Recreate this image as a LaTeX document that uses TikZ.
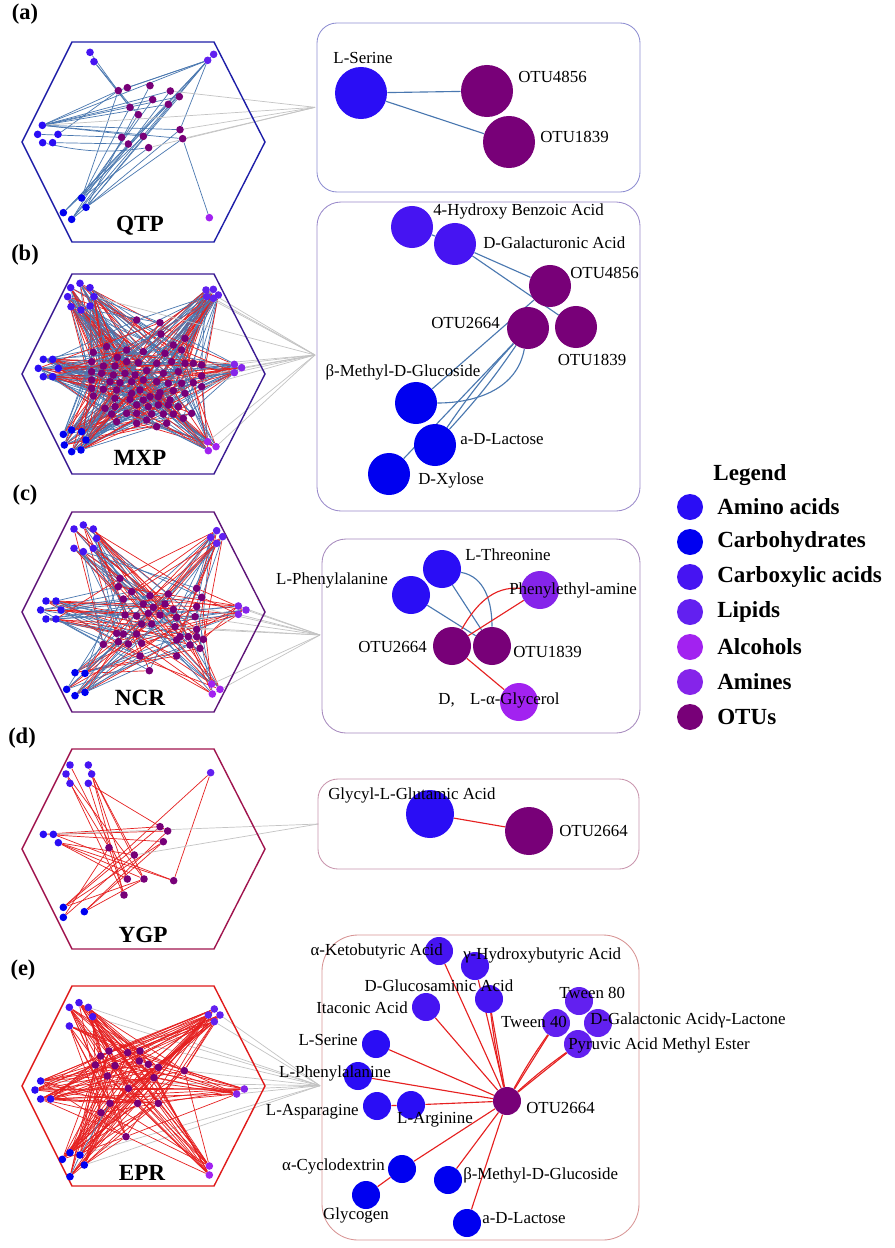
\documentclass[tikz,border=0pt]{standalone}
\usepackage{fontspec}
\setmainfont{Liberation Serif}
\usetikzlibrary{backgrounds}

\definecolor{amino}{HTML}{2A0DF5}
\definecolor{carbo}{HTML}{0000F0}
\definecolor{carbox}{HTML}{4614F2}
\definecolor{lipid}{HTML}{6220F0}
\definecolor{alcohol}{HTML}{A222F0}
\definecolor{amine}{HTML}{8524EA}
\definecolor{otu}{HTML}{780078}
\definecolor{edgeblue}{HTML}{4A78B0}
\definecolor{edgered}{HTML}{E62020}
\definecolor{fangray}{HTML}{C4C4C4}
\definecolor{hexa}{HTML}{1E1EA8}
\definecolor{hexb}{HTML}{3A1A92}
\definecolor{hexc}{HTML}{5E1478}
\definecolor{hexd}{HTML}{A0144E}
\definecolor{hexe}{HTML}{E01A1A}
\definecolor{boxa}{HTML}{8E8ED2}
\definecolor{boxb}{HTML}{9A8ACB}
\definecolor{boxc}{HTML}{A78ABE}
\definecolor{boxd}{HTML}{C996AE}
\definecolor{boxe}{HTML}{D89494}

\tikzset{
  netdot/.style={circle, fill=#1, inner sep=0pt, minimum size=0.19cm},
  bnode/.style={circle, fill=#1, inner sep=0pt},
  lab/.style={font=\fontsize{12}{14}\selectfont, inner sep=0pt},
  netblue/.style={draw=edgeblue, line width=0.5pt},
  netred/.style={draw=edgered, line width=0.5pt},
  boxedge/.style={draw=edgeblue, line width=0.8pt},
  boxred/.style={draw=edgered, line width=0.8pt},
  fan/.style={draw=fangray, line width=0.5pt},
  hexline/.style={draw=#1, line width=1pt},
  zoombox/.style={rounded corners=#1, line width=0.6pt},
  panel/.style={font=\fontsize{16}{18}\bfseries\selectfont, inner sep=0pt},
  hexname/.style={font=\fontsize{16.5}{18}\bfseries\selectfont, inner sep=0pt},
  legtext/.style={font=\fontsize{16.4}{18}\bfseries\selectfont, anchor=west, inner sep=0pt}
}

% hexagon frame round a network, #2 = centre height
\newcommand{\hexframe}[2]{\draw[hexline=#1] (22,#2) -- ++(50,-100) -- ++(142,0) -- ++(51,100) -- ++(-51,100) -- ++(-142,0) -- cycle;}

\begin{document}
\begin{tikzpicture}[x=0.025cm, y=-0.025cm]
  \begin{pgfonlayer}{background}
    \fill[white] (0,0) rectangle (894,1248);
  \end{pgfonlayer}
  \useasboundingbox (0,0) rectangle (894,1248);

  % ---------------- (a) QTP ----------------
  \node[panel] (pa) at (25,14) {(a)};
  \hexframe{hexa}{142}
  \node[hexname] (qtp) at (140,226) {QTP};
  \begin{scope}[shift={(0,0)}, scale=1/3]
    % metabolites
    \foreach \x/\y/\c [count=\i] in {270/157/carbox, 282/185/carbox, 641/163/lipid, 623/181/lipid,
        127/376/amino, 113/403/amino, 174/403/amino, 128/428/amino, 158/428/amino,
        245/594/carbo, 258/622/carbo, 190/638/carbo, 215/658/carbo, 628/653/alcohol}
      \node[netdot=\c] (ap\i) at (\x,\y) {};
    % OTUs
    \foreach \x/\y [count=\j] in {355/272, 382/263, 450/257, 511/273, 538/290, 458/299, 505/313, 390/322,
        415/344, 540/389, 548/416, 365/412, 430/409, 385/432, 446/443}
      \node[netdot=otu] (ao\j) at (\x,\y) {};
    \begin{pgfonlayer}{background}
      \foreach \u/\v in {ap1/ao8, ap2/ao8, ap2/ao9, ap4/ap5, ap4/ao1, ap4/ao2, ap4/ao10, ap4/ap10,
          ap4/ap11, ap4/ap13, ap3/ap12, ap5/ao1, ap5/ao6, ap5/ao7, ap5/ao4, ap5/ao5, ap5/ao10,
          ap5/ao11, ap5/ao13, ap7/ao1, ap6/ao12, ap9/ao14, ap10/ao1, ap10/ao8, ap10/ao6, ap11/ao3,
          ap11/ao5, ap12/ao7, ap13/ao4, ap13/ao10, ap11/ao11, ap13/ao9, ao11/ap14, ap12/ao13, ap10/ao15}
        \draw[netblue] (\u) -- (\v);
      \draw[netblue] (ap8) to[bend right=10] (ao15);
      \coordinate (fa) at (945,322);
      \foreach \u in {ap5, ao4, ao10, ao11, ao15}
        \draw[fan] (\u) -- (fa);
    \end{pgfonlayer}
  \end{scope}

  \draw[zoombox=0.5cm, draw=boxa] (317,23) rectangle (640,192);
  \node[bnode=amino, minimum size=1.3cm] (aser) at (361,93) {};
  \node[bnode=otu, minimum size=1.3cm] (a4856) at (487,91) {};
  \node[bnode=otu, minimum size=1.3cm] (a1839) at (509,142) {};
  \begin{pgfonlayer}{background}
    \draw[boxedge] (aser) -- (a4856);
    \draw[boxedge] (aser) -- (a1839);
  \end{pgfonlayer}
  \node[lab] (aserlab) at (363,58) {L-Serine};
  \node[lab, anchor=west] (a4856lab) at (518,77) {OTU4856};
  \node[lab, anchor=west] (a1839lab) at (540,137) {OTU1839};

  % ---------------- (b) MXP ----------------
  \node[panel] (pb) at (25,255) {(b)};
  \hexframe{hexb}{374}
  \node[hexname] (mxp) at (140,458) {MXP};
  \begin{scope}[shift={(0,240)}, scale=1/3]
    % metabolites
    \foreach \x/\y/\c [count=\i] in {212/143/carbox, 240/130/carbox, 270/143/carbox, 203/170/carbox,
        213/200/carbox, 243/210/carbox, 270/198/carbox, 282/170/carbox,
        618/150/lipid, 640/148/lipid, 655/165/lipid, 620/170/lipid, 640/175/lipid,
        130/358/amino, 158/358/amino, 115/385/amino, 175/385/amino, 130/410/amino, 158/410/amino,
        703/373/amine, 725/383/amine, 703/398/amine,
        190/583/carbo, 215/570/carbo, 245/575/carbo, 193/615/carbo, 258/600/carbo, 215/635/carbo, 243/630/carbo,
        623/605/alcohol, 648/620/alcohol, 625/632/alcohol}
      \node[netdot=\c] (bp\i) at (\x,\y) {};
    % OTUs
    \foreach \x/\y [count=\j] in {410/240, 480/248, 483/282, 555/295, 320/320, 380/330, 520/315,
        280/337, 352/352, 430/335, 495/340, 545/330,
        275/365, 310/378, 345/378, 380/365, 415/368, 470/370, 515/365, 555/370, 580/370, 605/375,
        275/395, 305/400, 340/405, 375/400, 405/405, 440/392, 490/400, 535/395, 605/408,
        275/420, 330/425, 360/428, 395/425, 430/420, 470/425, 505/430, 545/430, 580/428,
        275/445, 310/448, 350/450, 395/460, 420/450, 450/470, 480/458, 520/452, 555/460, 605/440,
        280/468, 345/475, 390/478, 430/480, 475/470, 510/480,
        315/505, 345/500, 410/495, 445/500, 475/495, 505/495, 535/500,
        335/522, 380/520, 410/520, 455/522, 490/522, 520/522, 575/520,
        350/545, 410/550, 440/540, 470/560, 500/550, 550/535}
      \node[netdot=otu] (bo\j) at (\x,\y) {};
    \begin{pgfonlayer}{background}
      \foreach \i in {1,...,32} {
        \foreach \j in {1,...,76} {
          \pgfmathtruncatemacro{\hit}{mod(\i*7+\j*11,19)}
          \pgfmathtruncatemacro{\tint}{mod(\i+2*\j,5)}
          \ifnum\hit<3
            \ifnum\tint<2 \draw[netred] (bp\i) -- (bo\j); \else \draw[netblue] (bp\i) -- (bo\j); \fi
          \fi
        }
      }
      \coordinate (fb) at (945,345);
      \foreach \u in {bp8, bp9, bp12, bp13, bp20, bp21, bp22, bp30, bp31, bo22, bo31, bo50}
        \draw[fan] (\u) -- (fb);
    \end{pgfonlayer}
  \end{scope}

  \draw[zoombox=0.6cm, draw=boxb] (317,202) rectangle (640,511);
  \node[bnode=carbox, minimum size=1.05cm] (bhba) at (412,227) {};
  \node[bnode=carbox, minimum size=1.05cm] (bgal) at (455,244) {};
  \node[bnode=otu, minimum size=1.05cm] (b4856) at (550,286) {};
  \node[bnode=otu, minimum size=1.05cm] (b2664) at (528,328) {};
  \node[bnode=otu, minimum size=1.05cm] (b1839) at (576,327) {};
  \node[bnode=carbo, minimum size=1.05cm] (bbmg) at (416,403) {};
  \node[bnode=carbo, minimum size=1.05cm] (blac) at (435,445) {};
  \node[bnode=carbo, minimum size=1.05cm] (bxyl) at (389,474) {};
  \begin{pgfonlayer}{background}
    \draw[boxedge] (bhba) -- (bgal);
    \draw[boxedge] (bgal) -- (b4856);
    \draw[boxedge] (bgal) -- (b1839);
    \draw[boxedge] (b4856) -- (bbmg);
    \draw[boxedge] (bbmg) to[out=0, in=-100] (b2664);
    \draw[boxedge] (b2664) to[bend left=4] (blac);
    \draw[boxedge] (b2664) to[bend right=4] (blac);
    \draw[boxedge] (b2664) -- (bxyl);
  \end{pgfonlayer}
  \node[lab, anchor=west] (bhbalab) at (433,211) {4-Hydroxy Benzoic Acid};
  \node[lab, anchor=west] (bgallab) at (483,243) {D-Galacturonic Acid};
  \node[lab, anchor=west] (b4856lab) at (570,273) {OTU4856};
  \node[lab, anchor=east] (b2664lab) at (500,323) {OTU2664};
  \node[lab] (b1839lab) at (592,360) {OTU1839};
  \node[lab] (bbmglab) at (403,372) {β-Methyl-D-Glucoside};
  \node[lab, anchor=west] (blaclab) at (460,439) {a-D-Lactose};
  \node[lab, anchor=west] (bxyllab) at (418,480) {D-Xylose};

  % ---------------- (c) NCR ----------------
  \node[panel] (pc) at (25,495) {(c)};
  \hexframe{hexc}{612}
  \node[hexname] (ncr) at (140,698) {NCR};
  \begin{scope}[shift={(0,480)}, scale=1/3]
    % metabolites
    \foreach \x/\y/\c [count=\i] in {222/147/carbox, 250/135/carbox, 280/147/carbox, 290/175/carbox,
        222/205/carbox, 250/215/carbox, 280/205/carbox,
        632/172/lipid, 650/152/lipid, 668/170/lipid, 650/190/lipid,
        138/363/amino, 168/363/amino, 122/390/amino, 183/390/amino, 138/417/amino, 168/417/amino,
        715/378/amine, 738/390/amine, 715/403/amine,
        225/578/carbo, 255/580/carbo, 200/628/carbo, 225/647/carbo, 255/637/carbo,
        635/612/alcohol, 660/628/alcohol, 637/642/alcohol}
      \node[netdot=\c] (cp\i) at (\x,\y) {};
    % OTUs
    \foreach \x/\y [count=\j] in {360/295, 355/320, 395/335, 370/357, 450/347, 505/342, 590/325, 605/352,
        430/372, 460/382, 495/372, 520/388, 590/380,
        375/405, 410/408, 445/400, 480/405, 530/412, 585/410,
        425/432, 455/432, 525/440, 590/448,
        350/460, 370/462, 410/462, 540/470, 565/470, 590/470, 610/478,
        310/493, 355/485, 385/492, 425/490, 530/480, 570/495, 600/505,
        420/528, 530/528, 448/572}
      \node[netdot=otu] (co\j) at (\x,\y) {};
    \begin{pgfonlayer}{background}
      \foreach \i in {1,...,28} {
        \foreach \j in {1,...,40} {
          \pgfmathtruncatemacro{\hit}{mod(\i*5+\j*7,13)}
          \pgfmathtruncatemacro{\tint}{mod(\i+\j,2)}
          \ifnum\hit<2
            \ifnum\tint=0 \draw[netred] (cp\i) -- (co\j); \else \draw[netblue] (cp\i) -- (co\j); \fi
          \fi
        }
      }
      \coordinate (fc) at (960,465);
      \foreach \u in {cp18, cp19, cp20, cp26, cp28, co13, co19, co22, co23}
        \draw[fan] (\u) -- (fc);
    \end{pgfonlayer}
  \end{scope}

  \draw[zoombox=0.6cm, draw=boxc] (322,539) rectangle (640,733);
  \node[bnode=amino, minimum size=0.95cm] (cthr) at (442,569) {};
  \node[bnode=amino, minimum size=0.95cm] (cphe) at (411,595) {};
  \node[bnode=amine, minimum size=0.95cm] (cpea) at (540,590) {};
  \node[bnode=otu, minimum size=0.95cm] (c2664) at (452,646) {};
  \node[bnode=otu, minimum size=0.95cm] (c1839) at (492,646) {};
  \node[bnode=alcohol, minimum size=0.95cm] (cgly) at (519,702) {};
  \begin{pgfonlayer}{background}
    \draw[boxedge] (cphe) -- (c1839);
    \draw[boxedge] (cthr) -- (c1839);
    \draw[boxedge] (cthr) to[out=-10, in=90] (c1839);
    \draw[boxred] (cpea) to[out=175, in=60] (c2664);
    \draw[boxred] (cpea) -- (c2664);
    \draw[boxred] (c2664) -- (cgly);
  \end{pgfonlayer}
  \node[lab, anchor=west] (cthrlab) at (465,555) {L-Threonine};
  \node[lab, anchor=east] (cphelab) at (388,580) {L-Phenylalanine};
  \node[lab, anchor=west] (cpealab) at (509,590) {Phenylethyl-amine};
  \node[lab, anchor=east] (c2664lab) at (427,647) {OTU2664};
  \node[lab, anchor=west] (c1839lab) at (513,652) {OTU1839};
  \node[lab] (cglylab) at (499,700) {D,\hspace{0.9em}L-α-Glycerol};

  % ---------------- (d) YGP ----------------
  \node[panel] (pd) at (22,738) {(d)};
  \hexframe{hexd}{849}
  \node[hexname] (ygp) at (143,935) {YGP};
  \begin{scope}[shift={(0,700)}, scale=1/3]
    % metabolites
    \foreach \x/\y/\c [count=\i] in {210/195/carbox, 265/195/carbox, 198/222/carbox, 275/222/carbox,
        210/250/carbox, 265/250/carbox, 632/218/lipid,
        130/403/amino, 160/403/amino, 175/428/amino,
        190/622/carbo, 190/652/carbo, 253/635/carbo}
      \node[netdot=\c] (dp\i) at (\x,\y) {};
    % OTUs
    \foreach \x/\y [count=\j] in {480/380, 503/393, 490/425, 327/443, 403/465, 382/537, 432/537, 521/542, 372/585}
      \node[netdot=otu] (do\j) at (\x,\y) {};
    \begin{pgfonlayer}{background}
      \foreach \u/\v in {dp1/do6, dp2/do6, dp3/do9, dp4/do7, dp4/do9, dp4/do5, dp6/do2, dp5/do4,
          dp7/do8, dp7/dp11, dp8/do3, dp8/do1, dp9/do2, dp9/do8, dp10/do5, dp10/do6, dp10/do7,
          dp10/do8, dp11/do1, dp11/do3, dp12/do5, dp12/do4, dp13/do3, dp13/do7, dp13/do2,
          dp11/do7, dp6/do9, dp3/do7}
        \draw[netred] (\u) -- (\v);
      \coordinate (fd) at (955,372);
      \foreach \u in {dp8, do5}
        \draw[fan] (\u) -- (fd);
    \end{pgfonlayer}
  \end{scope}

  \draw[zoombox=0.5cm, draw=boxd] (318,779) rectangle (639,869);
  \node[bnode=amino, minimum size=1.2cm] (dgly) at (430,814) {};
  \node[bnode=otu, minimum size=1.2cm] (d2664) at (529,831) {};
  \begin{pgfonlayer}{background}
    \draw[boxred] (dgly) -- (d2664);
  \end{pgfonlayer}
  \node[lab, anchor=west] (dglylab) at (328,795) {Glycyl-L-Glutamic Acid};
  \node[lab, anchor=west] (d2664lab) at (559,831) {OTU2664};

  % ---------------- (e) EPR ----------------
  \node[panel] (pe) at (23,970) {(e)};
  \hexframe{hexe}{1086}
  \node[hexname] (epr) at (142,1173) {EPR};
  \begin{scope}[shift={(0,920)}, scale=1/3]
    % metabolites
    \foreach \x/\y/\c [count=\i] in {208/262/carbox, 237/248/carbox, 265/262/carbox, 278/290/carbox, 208/318/carbox,
        643/267/lipid, 660/285/lipid, 625/285/lipid, 643/305/lipid,
        122/483/amino, 105/510/amino, 122/537/amino, 152/537/amino,
        733/507/amine, 710/522/amine,
        210/698/carbo, 187/718/carbo, 240/705/carbo, 253/735/carbo, 210/770/carbo,
        628/738/alcohol, 628/765/alcohol}
      \node[netdot=\c] (ep\i) at (\x,\y) {};
    % OTUs
    \foreach \x/\y [count=\j] in {302/408, 327/393, 383/398, 420/393, 286/435, 345/437, 418/423, 445/433,
        475/442, 553/452, 322/468, 462/473, 385/505, 330/550, 413/550, 475/550, 303/578, 378/650}
      \node[netdot=otu] (eo\j) at (\x,\y) {};
    \begin{pgfonlayer}{background}
      \coordinate (fe) at (960,497);
      \foreach \u in {ep3, ep4, ep5, ep7, ep9, ep10, ep14, ep15, ep18, ep19, eo10}
        \draw[fan] (\u) -- (fe);
      \foreach \i in {1,...,22} {
        \foreach \j in {1,...,18} {
          \pgfmathtruncatemacro{\hit}{mod(\i*3+\j*5,7)}
          \ifnum\hit<3 \draw[netred] (ep\i) -- (eo\j); \fi
        }
      }
      \foreach \u/\v in {ep6/ep10, ep7/ep11, ep8/ep16, ep9/ep17, ep6/ep18, ep2/ep21, ep3/ep22,
          ep11/ep14, ep12/ep15, ep1/ep22, ep4/ep21, ep8/ep12, ep13/ep14}
        \draw[netred] (\u) -- (\v);
      \draw[netblue] (ep20) -- (ep18);
      \draw[netblue] (ep18) -- (eo14);
    \end{pgfonlayer}
  \end{scope}

  \draw[zoombox=0.9cm, draw=boxe] (322,935) rectangle (639,1240);
  \node[bnode=carbox, minimum size=0.7cm] (eket) at (439,951) {};
  \node[bnode=carbox, minimum size=0.7cm] (ehyd) at (475,966) {};
  \node[bnode=carbox, minimum size=0.7cm] (eglu) at (489,999) {};
  \node[bnode=carbox, minimum size=0.7cm] (eita) at (426,1007) {};
  \node[bnode=lipid, minimum size=0.7cm] (et80) at (579,1001) {};
  \node[bnode=lipid, minimum size=0.7cm] (egal) at (598,1023) {};
  \node[bnode=lipid, minimum size=0.7cm] (et40) at (556,1023) {};
  \node[bnode=lipid, minimum size=0.7cm] (epyr) at (578,1044) {};
  \node[bnode=amino, minimum size=0.7cm] (eser) at (376,1044) {};
  \node[bnode=amino, minimum size=0.7cm] (ephe) at (358,1076) {};
  \node[bnode=amino, minimum size=0.7cm] (easp) at (377,1106) {};
  \node[bnode=amino, minimum size=0.7cm] (earg) at (411,1105) {};
  \node[bnode=otu, minimum size=0.7cm] (eotu) at (507,1101) {};
  \node[bnode=carbo, minimum size=0.7cm] (ecyc) at (402,1169) {};
  \node[bnode=carbo, minimum size=0.7cm] (eglyc) at (366,1195) {};
  \node[bnode=carbo, minimum size=0.7cm] (ebmg) at (448,1180) {};
  \node[bnode=carbo, minimum size=0.7cm] (elac) at (467,1223) {};
  \begin{pgfonlayer}{background}
    \foreach \v in {eket, ehyd, eglu, eita, eser, ephe, earg, ecyc, ebmg, elac, et40, epyr}
      \draw[boxred] (eotu) -- (\v);
    \foreach \v in {eglu, et40, epyr}
      \draw[boxred] (eotu) to[bend left=3] (\v);
    \draw[boxred] (eglyc) -- (ecyc);
    \draw[boxred] (easp) -- (earg);
  \end{pgfonlayer}
  \node[lab, anchor=east] (eketlab) at (443,951) {α-Ketobutyric Acid};
  \node[lab, anchor=west] (ehydlab) at (463,955) {γ-Hydroxybutyric Acid};
  \node[lab] (eglulab) at (439,986) {D-Glucosaminic Acid};
  \node[lab, anchor=east] (eitalab) at (408,1008) {Itaconic Acid};
  \node[lab, anchor=west] (et80lab) at (559,993) {Tween 80};
  \node[lab, anchor=west] (egallab) at (590,1020) {D-Galactonic Acidγ-Lactone};
  \node[lab] (et40lab) at (534,1022) {Tween 40};
  \node[lab, anchor=west] (epyrlab) at (568,1045) {Pyruvic Acid Methyl Ester};
  \node[lab, anchor=east] (eserlab) at (358,1040) {L-Serine};
  \node[lab] (ephelab) at (335,1073) {L-Phenylalanine};
  \node[lab, anchor=east] (easplab) at (359,1112) {L-Asparagine};
  \node[lab] (earglab) at (435,1120) {L-Arginine};
  \node[lab, anchor=west] (eotulab) at (526,1108) {OTU2664};
  \node[lab, anchor=east] (ecyclab) at (385,1166) {α-Cyclodextrin};
  \node[lab] (eglyclab) at (356,1215) {Glycogen};
  \node[lab, anchor=west] (ebmglab) at (463,1175) {β-Methyl-D-Glucoside};
  \node[lab, anchor=west] (elaclab) at (482,1218) {a-D-Lactose};

  % ---------------- legend ----------------
  \node[font=\fontsize{16.4}{18}\bfseries\selectfont, inner sep=0pt] (legtitle) at (750,475) {Legend};
  \foreach \c/\t [count=\k] in {amino/Amino acids, carbo/Carbohydrates, carbox/Carboxylic acids,
      lipid/Lipids, alcohol/Alcohols, amine/Amines, otu/OTUs} {
    \node[bnode=\c, minimum size=0.65cm] (key\k) at (690,472+35*\k) {};
    \node[legtext] (keytext\k) at (717,472+35*\k) {\t};
  }
\end{tikzpicture}
\end{document}
